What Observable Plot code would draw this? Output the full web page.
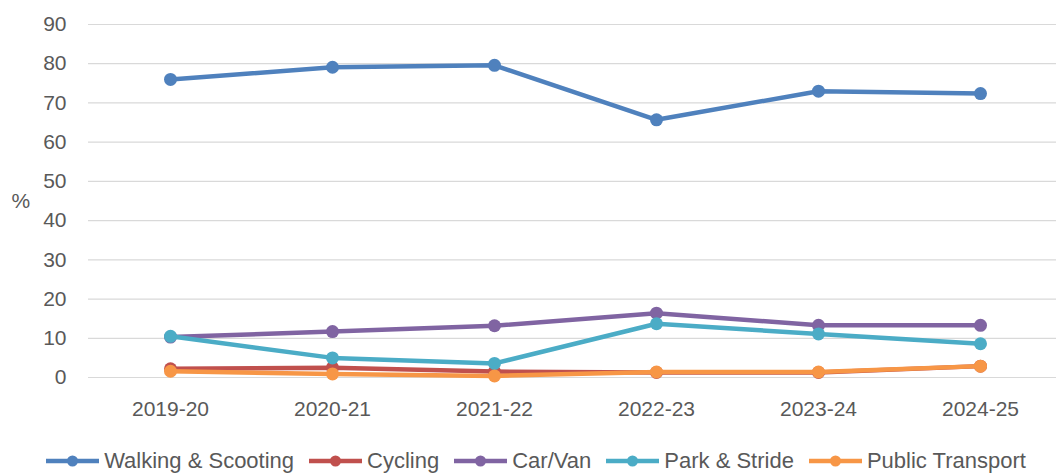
<!DOCTYPE html>
<html>
<head>
<meta charset="utf-8">
<script src="https://cdn.jsdelivr.net/npm/d3@7"></script>
<script src="https://cdn.jsdelivr.net/npm/@observablehq/plot@0.6"></script>
<style>
  html, body { margin: 0; padding: 0; background: #fff; }
  #chart { width: 1056px; }
  .legend { display: flex; justify-content: center; align-items: center; gap: 13px;
    font-family: "Liberation Sans", Arial, sans-serif; font-size: 22px; color: #595959;
    margin-top: 18px; padding-left: 14px; }
  .legend .item { display: flex; align-items: center; gap: 3px; }
</style>
</head>
<body>
<div id="chart"></div>
<script>
const years = ["2019-20", "2020-21", "2021-22", "2022-23", "2023-24", "2024-25"];
const seriesNames = ["Walking & Scooting", "Cycling", "Car/Van", "Park & Stride", "Public Transport"];
const walking = [76.0, 79.1, 79.6, 65.7, 73.0, 72.4];
const cycling = [2.2, 2.5, 1.5, 1.3, 1.3, 2.9];
const carVan = [10.3, 11.7, 13.2, 16.4, 13.3, 13.3];
const parkStride = [10.5, 5.0, 3.6, 13.7, 11.1, 8.6];
const publicTransport = [1.6, 0.9, 0.4, 1.4, 1.4, 2.9];
const colors = ["#4f81bd", "#c0504d", "#8064a2", "#4bacc6", "#f79646"];
const yTicks = [0, 10, 20, 30, 40, 50, 60, 70, 80, 90];

const seriesValues = [walking, cycling, carVan, parkStride, publicTransport];
const data = [];
seriesNames.forEach((name, i) => {
  years.forEach((yr, j) => data.push({series: name, year: yr, value: seriesValues[i][j]}));
});

const marks = [
  Plot.gridY(yTicks, {stroke: "#d9d9d9", strokeOpacity: 1, strokeWidth: 1.2}),
  Plot.axisY(yTicks, {tickSize: 0, tickPadding: 22, label: null}),
  Plot.axisX({tickSize: 0, tickPadding: 24, label: null}),
  Plot.text(["%"], {frameAnchor: "left", dx: -77, fill: "#595959"})
];
seriesNames.forEach((name) => {
  const d = data.filter(r => r.series === name);
  marks.push(Plot.line(d, {x: "year", y: "value", stroke: "series", strokeWidth: 4.5}));
  marks.push(Plot.dot(d, {x: "year", y: "value", fill: "series", r: 6.5, stroke: null}));
});

const chart = Plot.plot({
  width: 1056,
  height: 430,
  marginLeft: 88,
  marginRight: -5,
  marginTop: 24,
  marginBottom: 53,
  style: {fontFamily: "'Liberation Sans', Arial, sans-serif", fontSize: "21px", color: "#595959", background: "#fff"},
  x: {type: "point", domain: years, padding: 0.5},
  y: {domain: [0, 90]},
  color: {domain: seriesNames, range: colors},
  marks
});
document.getElementById("chart").appendChild(chart);

const legend = document.createElement("div");
legend.className = "legend";
seriesNames.forEach((name, i) => {
  const item = document.createElement("div");
  item.className = "item";
  item.innerHTML = `<svg width="57" height="16"><line x1="2" x2="55" y1="8" y2="8" stroke="${colors[i]}" stroke-width="4.5"/><circle cx="28.5" cy="8" r="5.5" fill="${colors[i]}"/></svg><span>${name}</span>`;
  legend.appendChild(item);
});
document.getElementById("chart").appendChild(legend);
</script>
</body>
</html>
